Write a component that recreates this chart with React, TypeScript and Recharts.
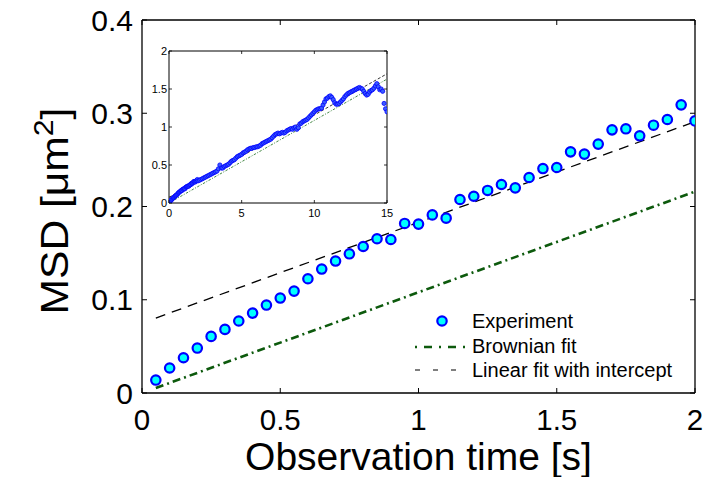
import React from 'react';
import { ComposedChart, Scatter, Line, XAxis, YAxis, ReferenceLine, Legend } from 'recharts';

const FONT = "'Liberation Sans', Arial, Helvetica, sans-serif";

// ---------- main chart data ----------
const timeMain = [0.05, 0.1, 0.15, 0.2, 0.25, 0.3, 0.35, 0.4, 0.45, 0.5, 0.55, 0.6, 0.65, 0.7, 0.75, 0.8, 0.85, 0.9, 0.95, 1.0,
  1.05, 1.1, 1.15, 1.2, 1.25, 1.3, 1.35, 1.4, 1.45, 1.5, 1.55, 1.6, 1.65, 1.7, 1.75, 1.8, 1.85, 1.9, 1.95, 2.0];
const msdMain = [0.0139, 0.0268, 0.0378, 0.0482, 0.0607, 0.0682, 0.0772, 0.0857, 0.0943, 0.1018, 0.1093, 0.1225, 0.1329, 0.1415, 0.1493, 0.1571, 0.1654, 0.1646, 0.1818, 0.1811,
  0.191, 0.1875, 0.2075, 0.211, 0.2172, 0.2236, 0.22, 0.2311, 0.2407, 0.2418, 0.2586, 0.2562, 0.2669, 0.2822, 0.2833, 0.2758, 0.2872, 0.2933, 0.309, 0.2918];

const brownFitT = [0.05, 2.0];
const brownFitV = [0.0054, 0.216];
const linFitT = [0.05, 2.0];
const linFitV = [0.0804, 0.291];

const mainXTicks = [0, 0.5, 1, 1.5, 2];
const mainYTicks = [0, 0.1, 0.2, 0.3, 0.4];

// ---------- inset data ----------
const insetTimeExtra = [2.1, 2.2, 2.3, 2.4, 2.5, 2.6, 2.7, 2.8, 2.9, 3.0, 3.1, 3.2, 3.3, 3.4, 3.5, 3.6, 3.7, 3.8, 3.9, 4.0,
  4.1, 4.2, 4.3, 4.4, 4.5, 4.6, 4.7, 4.8, 4.9, 5.0, 5.1, 5.2, 5.3, 5.4, 5.5, 5.6, 5.7, 5.8, 5.9, 6.0,
  6.1, 6.2, 6.3, 6.4, 6.5, 6.6, 6.7, 6.8, 6.9, 7.0, 7.1, 7.2, 7.3, 7.4, 7.5, 7.6, 7.7, 7.8, 7.9, 8.0,
  8.1, 8.2, 8.3, 8.4, 8.5, 8.6, 8.7, 8.8, 8.9, 9.0, 9.1, 9.2, 9.3, 9.4, 9.5, 9.6, 9.7, 9.8, 9.9, 10.0,
  10.1, 10.2, 10.3, 10.4, 10.5, 10.6, 10.7, 10.8, 10.9, 11.0, 11.1, 11.2, 11.3, 11.4, 11.5, 11.6, 11.7, 11.8, 11.9, 12.0,
  12.1, 12.2, 12.3, 12.4, 12.5, 12.6, 12.7, 12.8, 12.9, 13.0, 13.1, 13.2, 13.3, 13.4, 13.5, 13.6, 13.7, 13.8, 13.9, 14.0,
  14.1, 14.2, 14.3, 14.4, 14.5, 14.6, 14.7, 14.8, 14.9, 15.0];
const insetMsdExtra = [0.30, 0.31, 0.32, 0.33, 0.34, 0.35, 0.36, 0.37, 0.38, 0.39, 0.40, 0.41, 0.42, 0.45, 0.50, 0.46, 0.46, 0.48, 0.49, 0.50,
  0.51, 0.53, 0.55, 0.56, 0.57, 0.59, 0.61, 0.62, 0.63, 0.64, 0.66, 0.67, 0.68, 0.70, 0.71, 0.72, 0.72, 0.73, 0.73, 0.74,
  0.74, 0.75, 0.76, 0.78, 0.79, 0.80, 0.81, 0.82, 0.83, 0.84, 0.86, 0.88, 0.90, 0.91, 0.92, 0.91, 0.92, 0.93, 0.92, 0.93,
  0.95, 0.96, 0.97, 0.98, 0.97, 0.99, 1.00, 0.97, 0.99, 1.04, 1.05, 1.07, 1.08, 1.09, 1.10, 1.12, 1.14, 1.16, 1.18, 1.20,
  1.22, 1.23, 1.24, 1.24, 1.25, 1.29, 1.33, 1.37, 1.38, 1.40, 1.41, 1.39, 1.36, 1.32, 1.30, 1.30, 1.31, 1.33, 1.35, 1.37,
  1.40, 1.42, 1.44, 1.45, 1.46, 1.47, 1.48, 1.49, 1.50, 1.51, 1.52, 1.51, 1.50, 1.47, 1.44, 1.42, 1.43, 1.46, 1.48, 1.49,
  1.51, 1.54, 1.57, 1.53, 1.49, 1.50, 1.47, 1.31, 1.24, 1.20];

const insetLinT = [0, 15];
const insetLinV = [0.075, 1.70];
const insetBrownT = [0, 15];
const insetBrownV = [0, 1.63];

const insetXTicks = [0, 5, 10, 15];
const insetYTicks = [0, 0.5, 1, 1.5, 2];

const legendNames = ['Experiment', 'Brownian fit', 'Linear fit with intercept'];

// ---------- tables ----------
const toRows = (ts: number[], vs: number[]) => ts.map((t, i) => ({ t, v: vs[i] }));
const mainRows = toRows(timeMain, msdMain);
const brownRows = toRows(brownFitT, brownFitV);
const linRows = toRows(linFitT, linFitV);
const insetRows = [...mainRows, ...toRows(insetTimeExtra, insetMsdExtra)];
const insetLinRows = toRows(insetLinT, insetLinV);
const insetBrownRows = toRows(insetBrownT, insetBrownV);

// ---------- layout constants ----------
const MAIN_W = 553;
const MAIN_H = 373;
const INS_W = 218;
const INS_H = 152;

const MainXTick = (props: any) => {
  const { x, y, payload } = props;
  return (
    <g>
      <line x1={x} y1={y} x2={x} y2={y - 5} stroke="#000" strokeWidth={1} />
      <line x1={x} y1={y - MAIN_H} x2={x} y2={y - MAIN_H + 5} stroke="#000" strokeWidth={1} />
      <text x={x} y={y + 37} textAnchor="middle" fontSize={29.5} fontFamily={FONT} fill="#000">{payload.value}</text>
    </g>
  );
};

const MainYTick = (props: any) => {
  const { x, y, payload } = props;
  return (
    <g>
      <line x1={x} y1={y} x2={x + 5} y2={y} stroke="#000" strokeWidth={1} />
      <line x1={x + MAIN_W} y1={y} x2={x + MAIN_W - 5} y2={y} stroke="#000" strokeWidth={1} />
      <text x={x - 9} y={y + 10.5} textAnchor="end" fontSize={30} fontFamily={FONT} fill="#000">{payload.value}</text>
    </g>
  );
};

const InsetXTick = (props: any) => {
  const { x, y, payload } = props;
  return (
    <g>
      <line x1={x} y1={y} x2={x} y2={y - 3} stroke="#000" strokeWidth={0.8} />
      <line x1={x} y1={y - INS_H} x2={x} y2={y - INS_H + 3} stroke="#000" strokeWidth={0.8} />
      <text x={x} y={y + 14} textAnchor="middle" fontSize={11} fontFamily={FONT} fill="#000">{payload.value}</text>
    </g>
  );
};

const InsetYTick = (props: any) => {
  const { x, y, payload } = props;
  return (
    <g>
      <line x1={x} y1={y} x2={x + 3} y2={y} stroke="#000" strokeWidth={0.8} />
      <line x1={x + INS_W} y1={y} x2={x + INS_W - 3} y2={y} stroke="#000" strokeWidth={0.8} />
      <text x={x - 2} y={y + 4} textAnchor="end" fontSize={11} fontFamily={FONT} fill="#000">{payload.value}</text>
    </g>
  );
};

const MainMarker = (props: any) => (
  <circle cx={props.cx} cy={props.cy} r={4.7} fill="#00ffff" stroke="#0000ff" strokeWidth={2.2} />
);

const InsetMarker = (props: any) => (
  <circle cx={props.cx} cy={props.cy} r={2.1} fill="#3a5cff" stroke="#0000ff" strokeWidth={0.8} />
);

const XTitle = (props: any) => {
  const vb = props.viewBox || { x: 142, y: 393, width: MAIN_W };
  return (
    <text x={vb.x + vb.width / 2} y={vb.y + 77} textAnchor="middle" fontSize={39} fontFamily={FONT} fill="#000">
      Observation time [s]
    </text>
  );
};

const YTitle = () => (
  <text transform="translate(68,211) rotate(-90) scale(1.12,1)" textAnchor="middle" fontSize={38} fontFamily={FONT} fill="#000">
    MSD [μm<tspan dy={-15} fontSize={27}>2</tspan><tspan dy={15} fontSize={38}>]</tspan>
  </text>
);

const LegendBox = () => (
  <svg width={300} height={85} style={{ display: 'block' }}>
    <circle cx={37} cy={16} r={4.7} fill="#00ffff" stroke="#0000ff" strokeWidth={2.2} />
    <line x1={10} y1={42} x2={60} y2={42} stroke="#0d5a0d" strokeWidth={2.5} strokeDasharray="2 7 8 7" />
    <line x1={10} y1={65} x2={60} y2={65} stroke="#000" strokeWidth={1.2} strokeDasharray="5 13" />
    <text x={67} y={23} fontSize={20} fontFamily={FONT} fill="#000">{legendNames[0]}</text>
    <text x={67} y={48} fontSize={20} fontFamily={FONT} fill="#000">{legendNames[1]}</text>
    <text x={67} y={72} fontSize={20} fontFamily={FONT} fill="#000">{legendNames[2]}</text>
  </svg>
);

export default function App() {
  return (
    <div style={{ position: 'absolute', left: 0, top: 0, width: 715, height: 477, background: '#fff' }}>
      <div style={{ position: 'absolute', left: 0, top: 0 }}>
        <ComposedChart width={715} height={477} margin={{ top: 20, right: 20, bottom: 0, left: 0 }}>
          <XAxis dataKey="t" type="number" domain={[0, 2]} ticks={mainXTicks} interval={0} allowDataOverflow
            height={84} tickSize={0} tickMargin={0} tickLine={false} tick={<MainXTick />}
            axisLine={{ stroke: '#000', strokeWidth: 1.3 }} label={<XTitle />} />
          <YAxis dataKey="v" type="number" domain={[0, 0.4]} ticks={mainYTicks} interval={0} allowDataOverflow
            width={142} tickSize={0} tickMargin={0} tickLine={false} tick={<MainYTick />}
            axisLine={{ stroke: '#000', strokeWidth: 1.3 }} label={<YTitle />} />
          <ReferenceLine y={0.4} stroke="#000" strokeWidth={1.3} />
          <ReferenceLine x={2} stroke="#000" strokeWidth={1.3} />
          <Line data={brownRows} dataKey="v" name={legendNames[1]} stroke="#0d5a0d" strokeWidth={2.6}
            strokeDasharray="8 4 2 4" dot={false} activeDot={false} isAnimationActive={false} />
          <Line data={linRows} dataKey="v" name={legendNames[2]} stroke="#000" strokeWidth={1.3}
            strokeDasharray="10 7" dot={false} activeDot={false} isAnimationActive={false} />
          <Scatter data={mainRows} dataKey="v" name={legendNames[0]} shape={<MainMarker />} isAnimationActive={false} />
          <Legend layout="vertical" align="center" verticalAlign="middle" content={<LegendBox />}
            wrapperStyle={{ position: 'absolute', left: 405, top: 305, width: 300, height: 85 }} />
        </ComposedChart>
      </div>
      <div style={{ position: 'absolute', left: 130, top: 40 }}>
        <ComposedChart width={270} height={190} margin={{ top: 11, right: 13, bottom: 0, left: 0 }}>
          <XAxis dataKey="t" type="number" domain={[0, 15]} ticks={insetXTicks} interval={0} allowDataOverflow
            height={27} tickSize={0} tickMargin={0} tickLine={false} tick={<InsetXTick />}
            axisLine={{ stroke: '#000', strokeWidth: 1 }} />
          <YAxis dataKey="v" type="number" domain={[0, 2]} ticks={insetYTicks} interval={0} allowDataOverflow
            width={39} tickSize={0} tickMargin={0} tickLine={false} tick={<InsetYTick />}
            axisLine={{ stroke: '#000', strokeWidth: 1 }} />
          <ReferenceLine y={2} stroke="#000" strokeWidth={1} />
          <ReferenceLine x={15} stroke="#000" strokeWidth={1} />
          <Scatter data={insetRows} dataKey="v" shape={<InsetMarker />} isAnimationActive={false} />
          <Line data={insetBrownRows} dataKey="v" stroke="#2f7a2f" strokeWidth={0.9}
            strokeDasharray="2.5 1.5 1 1.5" dot={false} activeDot={false} isAnimationActive={false} />
          <Line data={insetLinRows} dataKey="v" stroke="#000" strokeWidth={0.8}
            strokeDasharray="3 2" dot={false} activeDot={false} isAnimationActive={false} />
        </ComposedChart>
      </div>
    </div>
  );
}
